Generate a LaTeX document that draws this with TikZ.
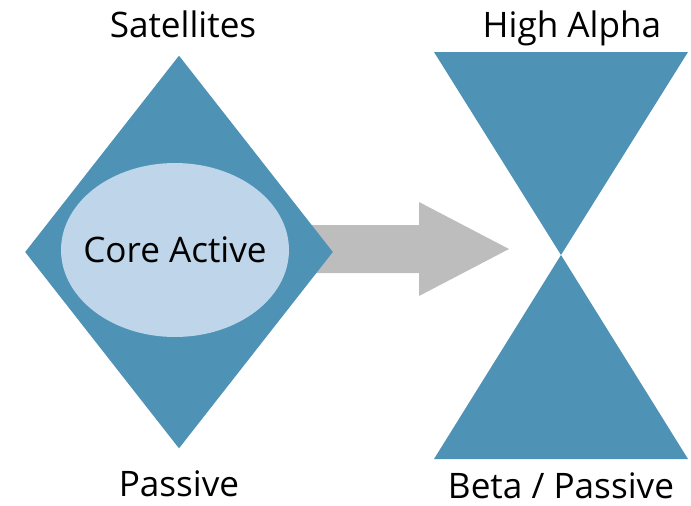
\documentclass[tikz,border=0pt]{standalone}
\usepackage{fontspec}
\setmainfont{Open Sans}
\usetikzlibrary{shapes.geometric}
\definecolor{shapec}{HTML}{4E92B5}
\definecolor{corec}{HTML}{BED5EA}
\definecolor{arrowc}{HTML}{BDBDBD}

\begin{document}
\begin{tikzpicture}[x=0.02cm,y=-0.02cm,font=\fontsize{20pt}{24pt}\selectfont]
\useasboundingbox (0,0) rectangle (691,505);

% grey block arrow, tail hidden under the diamond
\fill[arrowc] (250,225) -- (419,225) -- (419,202) -- (509,249) -- (419,296) -- (419,273) -- (250,273) -- cycle;

\node[diamond, fill=shapec, inner sep=0pt, minimum width=6.16cm, minimum height=7.86cm]
(diam) at (179,252) {};
\node[ellipse, fill=corec, inner sep=0pt, minimum width=4.56cm, minimum height=3.48cm,
label={center:Core Active}]
(core) at (175,250) {};

% hourglass
\coordinate (waist) at (561,255);
\fill[shapec] (434,52) -- (688,52) -- (waist) -- cycle;
\fill[shapec] (434,459) -- (688,459) -- (waist) -- cycle;

\node[anchor=base] (sat) at (183,37) {Satellites};
\node[anchor=base] (alpha) at (572,37) {High Alpha};
\node[anchor=base] (pas) at (179,496) {Passive};
\node[anchor=base] (beta) at (561,498) {Beta / Passive};

\end{tikzpicture}
\end{document}
